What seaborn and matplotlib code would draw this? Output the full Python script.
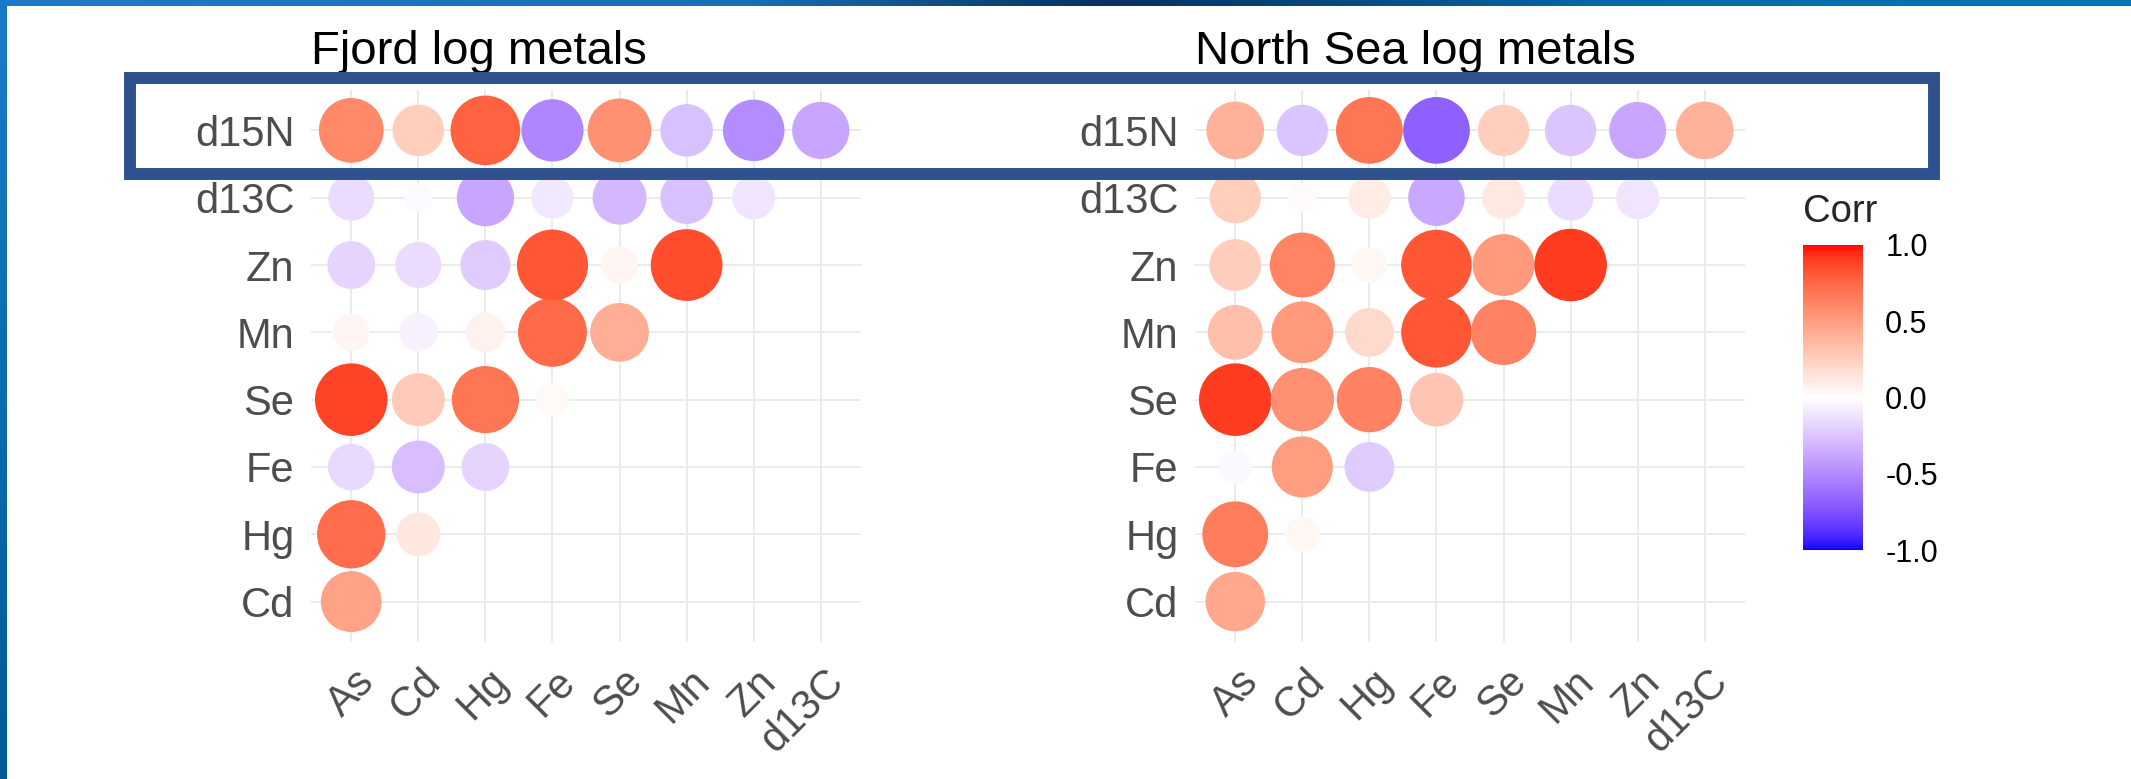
import numpy as np
import pandas as pd
import matplotlib
matplotlib.use("Agg")
import matplotlib.pyplot as plt
from matplotlib.colors import LinearSegmentedColormap, Normalize
from matplotlib.cm import ScalarMappable
from matplotlib.patches import Rectangle
from matplotlib.transforms import ScaledTranslation
import seaborn as sns

sns.set_theme(style="white")
plt.rcParams["font.family"] = ["Liberation Sans", "DejaVu Sans"]

# axis categories (rows listed bottom -> top)
COLS = ["As", "Cd", "Hg", "Fe", "Se", "Mn", "Zn", "d13C"]
ROWS = ["Cd", "Hg", "Fe", "Se", "Mn", "Zn", "d13C", "d15N"]

# lower-triangle correlations, one list per row (against As, Cd, Hg, ...)
fjord_cd = [0.48]
fjord_hg = [0.72, 0.12]
fjord_fe = [-0.16, -0.28, -0.18]
fjord_se = [0.88, 0.28, 0.68, 0.03]
fjord_mn = [0.05, -0.06, 0.07, 0.74, 0.42]
fjord_zn = [-0.18, -0.15, -0.22, 0.82, 0.05, 0.85]
fjord_d13c = [-0.15, -0.02, -0.38, -0.10, -0.30, -0.27, -0.11]
fjord_d15n = [0.60, 0.25, 0.77, -0.52, 0.57, -0.27, -0.50, -0.38]

ns_cd = [0.45]
ns_hg = [0.65, 0.04]
ns_fe = [-0.03, 0.50, -0.22]
ns_se = [0.90, 0.57, 0.63, 0.30]
ns_mn = [0.33, 0.52, 0.20, 0.82, 0.63]
ns_zn = [0.26, 0.62, 0.04, 0.82, 0.52, 0.90]
ns_d13c = [0.25, 0.02, 0.10, -0.37, 0.11, -0.15, -0.11]
ns_d15n = [0.40, -0.25, 0.68, -0.68, 0.25, -0.25, -0.38, 0.40]

FJORD = [fjord_cd, fjord_hg, fjord_fe, fjord_se, fjord_mn, fjord_zn, fjord_d13c, fjord_d15n]
NORTH_SEA = [ns_cd, ns_hg, ns_fe, ns_se, ns_mn, ns_zn, ns_d13c, ns_d15n]

TITLES = ["Fjord log metals", "North Sea log metals"]
CBAR_TICKS = [-1.0, -0.5, 0.0, 0.5, 1.0]


def rgb_to_lab(rgb):
    c = np.asarray(rgb, dtype=float)
    c = np.where(c > 0.04045, ((c + 0.055) / 1.055) ** 2.4, c / 12.92)
    m = np.array([[0.4124, 0.3576, 0.1805], [0.2126, 0.7152, 0.0722], [0.0193, 0.1192, 0.9505]])
    xyz = m @ c / np.array([0.95047, 1.0, 1.08883])
    f = np.where(xyz > 0.008856, np.cbrt(xyz), 7.787 * xyz + 16 / 116)
    return np.array([116 * f[1] - 16, 500 * (f[0] - f[1]), 200 * (f[1] - f[2])])


def lab_to_rgb(lab):
    L, a, b = lab
    fy = (L + 16) / 116
    f = np.array([fy + a / 500, fy, fy - b / 200])
    xyz = np.where(f ** 3 > 0.008856, f ** 3, (f - 16 / 116) / 7.787) * np.array([0.95047, 1.0, 1.08883])
    m = np.array([[3.2406, -1.5372, -0.4986], [-0.9689, 1.8758, 0.0415], [0.0557, -0.2040, 1.0570]])
    c = np.clip(m @ xyz, 0, 1)
    c = np.where(c > 0.0031308, 1.055 * c ** (1 / 2.4) - 0.055, 12.92 * c)
    return np.clip(c, 0, 1)


# blue - white - red, interpolated in Lab like ggplot's gradient2
lab_b, lab_w, lab_r = rgb_to_lab([0, 0, 1]), rgb_to_lab([1, 1, 1]), rgb_to_lab([1, 0, 0])
stops = []
for t in np.linspace(-1, 1, 257):
    end = lab_b if t < 0 else lab_r
    stops.append(lab_to_rgb(lab_w + abs(t) * (end - lab_w)))
CMAP = LinearSegmentedColormap.from_list("corr", stops)


def long_table(values_by_row):
    recs = []
    for yi, vals in enumerate(values_by_row):
        for xi, v in enumerate(vals):
            recs.append({"x": xi, "y": yi, "corr": v})
    df = pd.DataFrame(recs)
    a = df["corr"].abs()
    scaled = (a - a.min()) / (a.max() - a.min())
    df["dot"] = (4 + 6 * np.sqrt(scaled)) ** 2
    return df


def draw_panel(fig, ax, df, title):
    sns.scatterplot(data=df, x="x", y="y", hue="corr", palette=CMAP, hue_norm=(-1, 1),
                    size="dot", sizes=(437, 2730), size_norm=(16, 100),
                    linewidth=0, legend=False, ax=ax, zorder=3)
    ax.set_xlim(-0.6, 7.6)
    ax.set_ylim(-0.6, 7.6)
    ax.set_xticks(range(len(COLS)))
    ax.set_xticklabels(COLS, rotation=45, ha="right", va="top")
    ax.set_yticks(range(len(ROWS)))
    ax.set_yticklabels(ROWS)
    ax.grid(True, color="#EBEBEB", linewidth=1.4)
    ax.set_axisbelow(True)
    for s in ax.spines.values():
        s.set_visible(False)
    ax.tick_params(length=0, labelsize=30, labelcolor="#4D4D4D")
    ax.tick_params(axis="x", pad=14)
    ax.tick_params(axis="y", pad=12)
    shift = ScaledTranslation(0.31, 0, fig.dpi_scale_trans)
    for lab in ax.get_xticklabels():
        lab.set_transform(lab.get_transform() + shift)
    ax.set_xlabel("")
    ax.set_ylabel("")
    ax.set_title(title, loc="left", fontsize=34, pad=19, color="black")


def main():
    W, H = 2131, 779
    fig = plt.figure(figsize=(W / 100, H / 100), dpi=100, facecolor="white")

    ax1 = fig.add_axes([311 / W, 1 - 642 / H, 550 / W, 552 / H])
    ax2 = fig.add_axes([1195 / W, 1 - 642 / H, 550 / W, 552 / H])
    draw_panel(fig, ax1, long_table(FJORD), TITLES[0])
    draw_panel(fig, ax2, long_table(NORTH_SEA), TITLES[1])

    # legend colourbar
    cax = fig.add_axes([1803 / W, 1 - 550 / H, 60 / W, 305 / H])
    cb = fig.colorbar(ScalarMappable(norm=Normalize(-1, 1), cmap=CMAP), cax=cax, ticks=CBAR_TICKS)
    cb.outline.set_visible(False)
    cax.set_yticklabels([f"{t:.1f}" for t in CBAR_TICKS])
    cax.tick_params(direction="in", color="white", length=10, width=1.5, labelsize=22,
                    pad=16, left=True, right=True, labelleft=False, labelright=True,
                    labelcolor="black")
    fig.text(1803 / W, 1 - 222 / H, "Corr", fontsize=27.5, ha="left", va="baseline")

    # highlight box round the d15N row
    fig.add_artist(Rectangle((130 / W, 1 - 174 / H), 1804 / W, 96 / H, transform=fig.transFigure,
                             fill=False, edgecolor="#2F528F", linewidth=8.6, zorder=10))

    # slide frame: gradient strips on top and left
    top = LinearSegmentedColormap.from_list("top", [(0, "#1f7bc8"), (0.35, "#1670b8"),
                                                    (0.52, "#0b2f5e"), (0.75, "#0068aa"),
                                                    (1, "#0078b8")])
    left = LinearSegmentedColormap.from_list("left", ["#1a7cc8", "#005a96"])
    tax = fig.add_axes([0, 1 - 6 / H, 1, 6 / H])
    tax.imshow(np.linspace(0, 1, 256)[None, :], cmap=top, aspect="auto")
    tax.axis("off")
    lax = fig.add_axes([0, 0, 7 / W, 1])
    lax.imshow(np.linspace(0, 1, 256)[:, None], cmap=left, aspect="auto")
    lax.axis("off")

    fig.savefig("out.png", dpi=100, facecolor="white")
    plt.close(fig)


if __name__ == "__main__":
    main()
